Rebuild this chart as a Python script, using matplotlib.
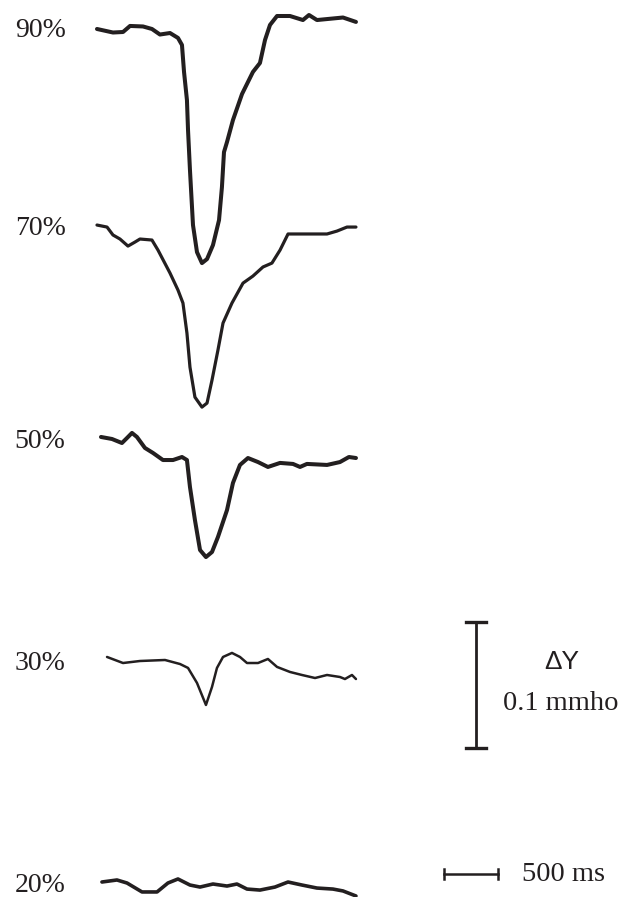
import matplotlib.pyplot as plt
import numpy as np

# traces: time (ms) and conductance change dY (mmho) relative to trace start
t90 = [0, 148, 241, 306, 426, 509, 583, 676, 750, 787, 806, 833, 843, 861, 889, 926, 972,
       1019, 1074, 1130, 1157, 1176, 1204, 1259, 1343, 1444, 1509, 1556, 1602, 1667, 1787,
       1907, 1963, 2037, 2278, 2398]
dy90 = [0, -0.0028, -0.0024, 0.0024, 0.0020, 0, -0.0044, -0.0032, -0.0071, -0.0127, -0.0341,
        -0.0564, -0.0802, -0.1120, -0.1556, -0.1771, -0.1858, -0.1826, -0.1715, -0.1517,
        -0.1255, -0.0977, -0.0897, -0.0723, -0.0516, -0.0341, -0.0270, -0.0087, 0.0032,
        0.0103, 0.0103, 0.0071, 0.0111, 0.0071, 0.0091, 0.0056]

t70 = [0, 93, 148, 213, 287, 352, 398, 509, 565, 676, 750, 796, 833, 861, 907, 972, 1019,
       1065, 1120, 1167, 1250, 1352, 1444, 1537, 1620, 1695, 1769, 1944, 2130, 2222, 2315, 2398]
dy70 = [0, -0.0016, -0.0079, -0.0111, -0.0167, -0.0135, -0.0111, -0.0119, -0.0199, -0.0381,
        -0.0516, -0.0619, -0.0858, -0.1128, -0.1366, -0.1445, -0.1413, -0.1231, -0.0993,
        -0.0778, -0.0619, -0.0461, -0.0405, -0.0333, -0.0302, -0.0199, -0.0071, -0.0071,
        -0.0071, -0.0048, -0.0016, -0.0016]

t50 = [37, 139, 231, 278, 324, 370, 444, 519, 611, 704, 787, 833, 861, 907, 954, 1009, 1065,
       1120, 1204, 1259, 1324, 1398, 1491, 1583, 1695, 1815, 1880, 1944, 2130, 2250, 2333, 2398]
dy50 = [0, -0.0016, -0.0048, -0.0008, 0.0032, 0, -0.0087, -0.0127, -0.0183, -0.0183, -0.0159,
        -0.0183, -0.0397, -0.0659, -0.0897, -0.0953, -0.0913, -0.0794, -0.0580, -0.0365,
        -0.0222, -0.0167, -0.0199, -0.0238, -0.0206, -0.0214, -0.0238, -0.0214, -0.0222,
        -0.0199, -0.0159, -0.0167]

t30 = [93, 241, 398, 630, 769, 843, 926, 1009, 1065, 1111, 1167, 1250, 1324, 1389, 1491, 1583,
       1667, 1787, 1898, 2019, 2130, 2250, 2296, 2361, 2398]
dy30 = [0, -0.0048, -0.0032, -0.0024, -0.0056, -0.0087, -0.0206, -0.0381, -0.0238, -0.0087,
        0, 0.0032, 0, -0.0048, -0.0048, -0.0016, -0.0079, -0.0119, -0.0143, -0.0167, -0.0143,
        -0.0159, -0.0175, -0.0143, -0.0175]

t20 = [46, 185, 278, 417, 556, 657, 750, 861, 954, 1074, 1204, 1296, 1389, 1509, 1648, 1769,
       1898, 2037, 2185, 2278, 2398]
dy20 = [0, 0.0016, -0.0008, -0.0079, -0.0079, -0.0008, 0.0024, -0.0024, -0.0040, -0.0016,
        -0.0032, -0.0016, -0.0056, -0.0064, -0.0040, 0, -0.0024, -0.0048, -0.0056, -0.0071,
        -0.0111]

labels = ['90%', '70%', '50%', '30%', '20%']

# scale bars
bar_dy = 0.1      # mmho
bar_dt = 500      # ms

# layout (vertical stacking of traces, in mmho)
offsets = [-0.0230, -0.1786, -0.3468, -0.5214, -0.7000]
label_y = [-0.0246, -0.1810, -0.3500, -0.5262, -0.7024]
widths = [2.9, 2.3, 2.9, 1.8, 2.6]

fig = plt.figure(figsize=(6.32, 8.97), dpi=100)
ax = fig.add_axes([0, 0, 1, 1])
ax.set_xlim(-898, 4954)
ax.set_ylim(-0.7119, 0)
ax.axis('off')

traces = [(t90, dy90), (t70, dy70), (t50, dy50), (t30, dy30), (t20, dy20)]
for (t, dy), off, lw, lab, ly in zip(traces, offsets, widths, labels, label_y):
    ax.plot(t, np.array(dy) + off, color='#231f20', lw=lw,
            solid_joinstyle='round', solid_capstyle='round')
    ax.text(-762, ly, lab, fontsize=20, family='Liberation Serif',
            color='#231f20', ha='left', va='center')

# vertical bar: 0.1 mmho
vx = 3509
vtop = -0.4937
ax.plot([vx, vx], [vtop, vtop - bar_dy], color='#231f20', lw=2.0)
for yy in [vtop, vtop - bar_dy]:
    ax.plot([vx - 92, vx + 92], [yy, yy], color='#231f20', lw=2.4)
ax.text(4306, -0.5254, '\u0394Y', fontsize=19, family='Liberation Sans',
        color='#231f20', ha='center', va='center')
ax.text(4296, -0.5580, '0.1 mmho', fontsize=20.5, family='Liberation Serif',
        color='#231f20', ha='center', va='center')

# horizontal bar: 500 ms
hx = 3213
hy = -0.6937
ax.plot([hx, hx + bar_dt], [hy, hy], color='#231f20', lw=1.8)
for xx in [hx, hx + bar_dt]:
    ax.plot([xx, xx], [hy - 0.004, hy + 0.004], color='#231f20', lw=1.8)
ax.text(3940, hy, '500 ms', fontsize=20.5, family='Liberation Serif',
        color='#231f20', ha='left', va='center')

fig.savefig('out.png', dpi=100)
